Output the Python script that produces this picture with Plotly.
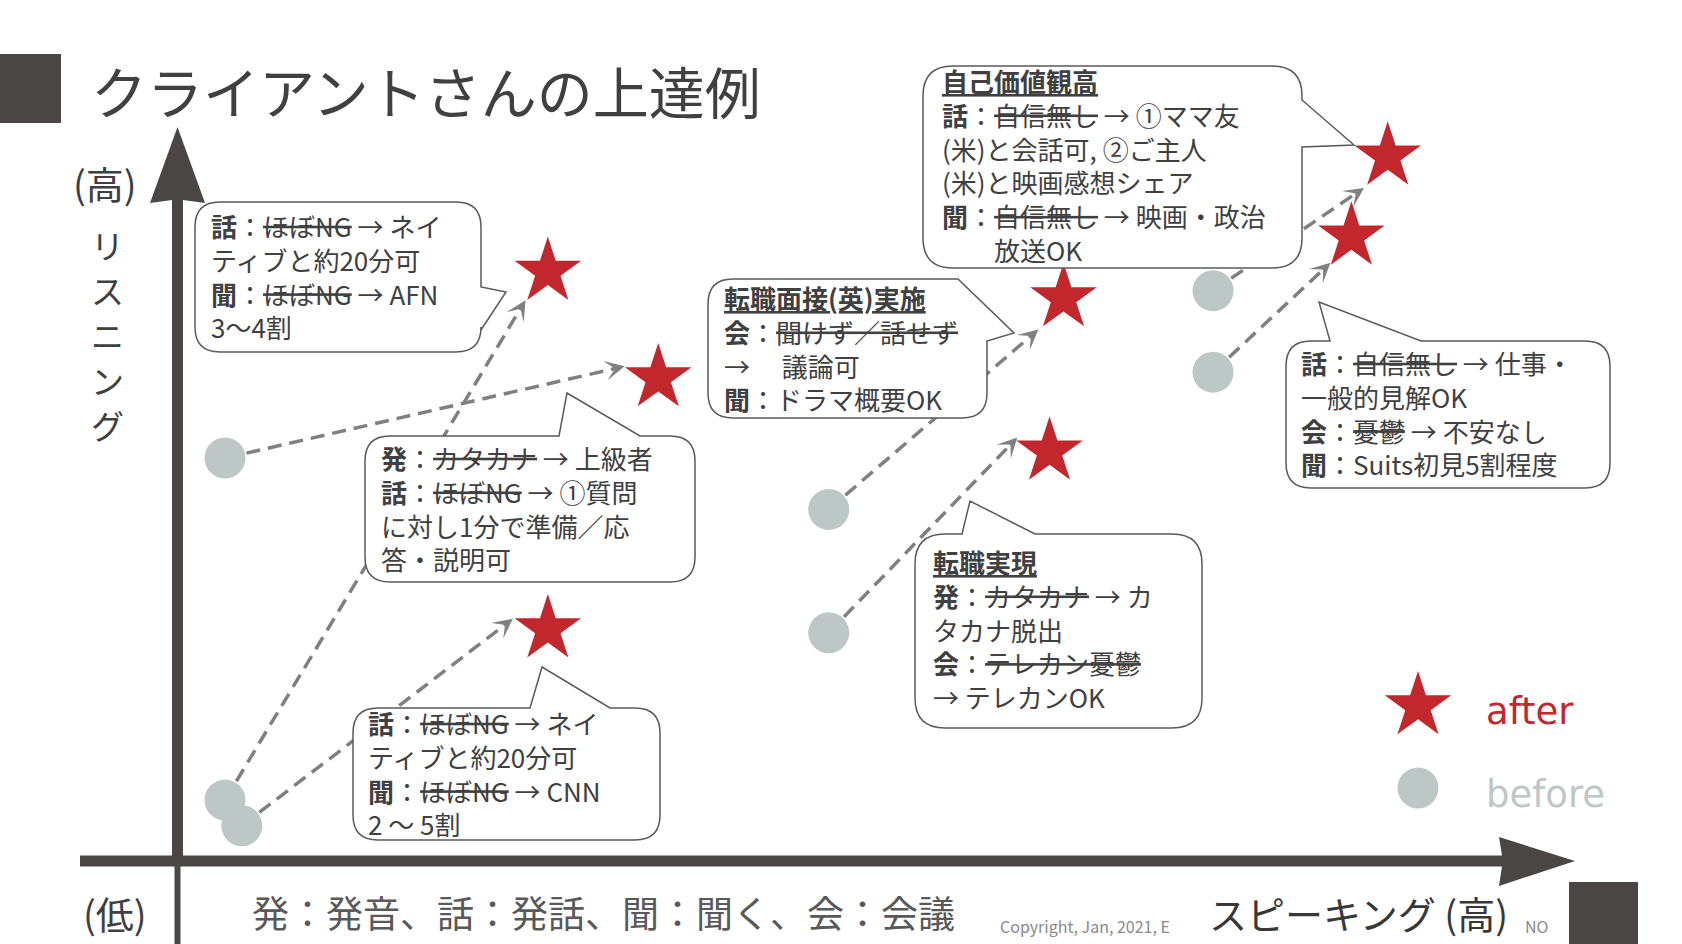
import math
import plotly.graph_objects as go

# ---------------- data (conceptual levels 0-100) ----------------
before_speaking = [3.4, 3.4, 4.6, 46.6, 46.6, 74.1, 74.1]
before_listening = [54.9, 8.3, 4.8, 47.9, 31.1, 77.7, 66.6]
after_speaking = [34.4, 26.5, 26.5, 63.4, 62.4, 86.6, 84.0]
after_listening = [65.8, 80.3, 31.6, 76.7, 55.8, 96.0, 85.1]
# where each dashed arrow stops
arrow_end_speaking = [32.0, 24.9, 24.0, 61.6, 60.1, 84.9, 82.5]
arrow_end_listening = [67.4, 76.4, 33.0, 72.4, 57.7, 91.7, 81.5]

title_text = "クライアントさんの上達例"
y_label_chars = ["リ", "ス", "ニ", "ン", "グ"]
legend_labels = ["after", "before"]
footnote = "発：発音、話：発話、聞：聞く、会：会議"

box_a = ["<b>話</b>：<s>ほぼNG</s> → ネイ", "ティブと約20分可", "<b>聞</b>：<s>ほぼNG</s> → AFN", "3～4割"]
box_b = ["<b>発</b>：<s>カタカナ</s> → 上級者", "<b>話</b>：<s>ほぼNG</s> → ①質問", "に対し1分で準備／応", "答・説明可"]
box_g = ["<b>話</b>：<s>ほぼNG</s> → ネイ", "ティブと約20分可", "<b>聞</b>：<s>ほぼNG</s> → CNN", "2 ～ 5割"]
box_c = ["<b><u>転職面接(英)実施</u></b>", "<b>会</b>：<s>聞けず／話せず</s>", "→　 議論可", "<b>聞</b>：ドラマ概要OK"]
box_d = ["<b><u>自己価値観高</u></b>", "<b>話</b>：<s>自信無し</s> → ①ママ友", "(米)と会話可, ②ご主人",
         "(米)と映画感想シェア", "<b>聞</b>：<s>自信無し</s> → 映画・政治", "　　放送OK"]
box_e = ["<b>話</b>：<s>自信無し</s> → 仕事・", "一般的見解OK", "<b>会</b>：<s>憂鬱</s> → 不安なし", "<b>聞</b>：Suits初見5割程度"]
box_f = ["<b><u>転職実現</u></b>", "<b>発</b>：<s>カタカナ</s> → カ", "タカナ脱出", "<b>会</b>：<s>テレカン憂鬱</s>", "→ テレカンOK"]

# ---------------- layout geometry ----------------
W, H = 1682, 944
OX, OY = 177.5, 861.0        # pixel position of the axis crossing
KX, KY = 13.975, 7.34        # pixels per level unit


def to_px(x, y):
    return OX + x * KX, OY - y * KY


def to_data(px, py):
    return (px - OX) / KX, (OY - py) / KY


def P(x, y):
    return f"{x / W:.5f},{1 - y / H:.5f}"


JP = "Noto Sans CJK JP"
DARK = "#4A4645"
TXT = "#404040"
RED = "#C1272D"
GREY = "#BDC7C5"
LINE = "#808080"

fig = go.Figure()

# dashed connectors
lx, ly, arrows = [], [], []
for bx, by, ex, ey in zip(before_speaking, before_listening, arrow_end_speaking, arrow_end_listening):
    p0 = to_px(bx, by)
    p1 = to_px(ex, ey)
    dx, dy = p1[0] - p0[0], p1[1] - p0[1]
    d = math.hypot(dx, dy)
    ux, uy = dx / d, dy / d
    lend = (p1[0] - ux * 8, p1[1] - uy * 8)
    tail = (p1[0] - ux * 12, p1[1] - uy * 12)
    lx += [bx, to_data(*lend)[0], None]
    ly += [by, to_data(*lend)[1], None]
    arrows.append(((ex, ey), to_data(*tail)))

fig.add_trace(go.Scatter(x=lx, y=ly, mode="lines", hoverinfo="skip",
                         line=dict(color=LINE, width=3.5, dash="14px,8px")))
fig.add_trace(go.Scatter(x=before_speaking, y=before_listening, mode="markers", hoverinfo="skip",
                         marker=dict(size=41, color=GREY, line=dict(width=0))))
fig.add_trace(go.Scatter(x=after_speaking, y=after_listening, mode="markers", hoverinfo="skip",
                         marker=dict(symbol="star", size=50, color=RED, line=dict(width=0))))
# legend markers
lgx1, lgy1 = to_data(1418, 706)
lgx2, lgy2 = to_data(1418, 788)
fig.add_trace(go.Scatter(x=[lgx1], y=[lgy1], mode="markers", hoverinfo="skip",
                         marker=dict(symbol="star", size=50, color=RED, line=dict(width=0))))
fig.add_trace(go.Scatter(x=[lgx2], y=[lgy2], mode="markers", hoverinfo="skip",
                         marker=dict(size=41, color=GREY, line=dict(width=0))))

shapes = []
# dark squares
shapes.append(dict(type="rect", xref="paper", yref="paper", x0=0, x1=61 / W, y0=1 - 123 / H, y1=1 - 54 / H,
                   fillcolor=DARK, line=dict(width=0), layer="below"))
shapes.append(dict(type="rect", xref="paper", yref="paper", x0=1569 / W, x1=1638 / W, y0=0, y1=1 - 882 / H,
                   fillcolor=DARK, line=dict(width=0), layer="below"))
# vertical axis arrow
v_path = (f"M{P(172, 861)} L{P(172, 200)} L{P(150, 203)} L{P(177.5, 127)} L{P(205, 203)} "
          f"L{P(183, 200)} L{P(183, 861)} Z")
shapes.append(dict(type="path", xref="paper", yref="paper", path=v_path, fillcolor=DARK,
                   line=dict(width=0), layer="below"))
shapes.append(dict(type="rect", xref="paper", yref="paper", x0=174.5 / W, x1=180.5 / W, y0=0, y1=1 - 861 / H,
                   fillcolor=DARK, line=dict(width=0), layer="below"))
# horizontal axis arrow
h_path = (f"M{P(80, 855.5)} L{P(1502, 855.5)} L{P(1499, 837)} L{P(1575, 861)} L{P(1499, 886)} "
          f"L{P(1502, 866.5)} L{P(80, 866.5)} Z")
shapes.append(dict(type="path", xref="paper", yref="paper", path=h_path, fillcolor=DARK,
                   line=dict(width=0), layer="below"))


def bubble(x0, y0, x1, y1, r=25, top=None, right=None, topright=None):
    s = [f"M{P(x0 + r, y0)}"]
    if top:
        b1, tip, b2 = top
        s += [f"L{P(b1, y0)}", f"L{P(*tip)}", f"L{P(b2, y0)}"]
    if topright:
        bx, tip, by = topright
        s += [f"L{P(bx, y0)}", f"L{P(*tip)}", f"L{P(x1, by)}"]
    else:
        s += [f"L{P(x1 - r, y0)}", f"Q{P(x1, y0)} {P(x1, y0 + r)}"]
    if right:
        b1, tip, b2 = right
        s += [f"L{P(x1, b1)}", f"L{P(*tip)}", f"L{P(x1, b2)}"]
    s += [f"L{P(x1, y1 - r)}", f"Q{P(x1, y1)} {P(x1 - r, y1)}",
          f"L{P(x0 + r, y1)}", f"Q{P(x0, y1)} {P(x0, y1 - r)}",
          f"L{P(x0, y0 + r)}", f"Q{P(x0, y0)} {P(x0 + r, y0)}", "Z"]
    return " ".join(s)


bubbles = [
    bubble(195, 202, 481, 352, right=(287, (506, 292), 330)),
    bubble(365, 436, 695, 582, top=(559, (567, 393), 640)),
    bubble(353, 708, 660, 840, top=(530, (542, 667), 610)),
    bubble(708, 279, 987, 418, topright=(958, (1014, 333), 341)),
    bubble(923, 66, 1302, 268, r=30, right=(100, (1354, 145), 147)),
    bubble(1286, 341, 1610, 488, top=(1330, (1319, 302), 1421)),
    bubble(915, 534, 1202, 728, r=30, top=(962, (970, 501), 1035)),
]
for b in bubbles:
    shapes.append(dict(type="path", xref="paper", yref="paper", path=b, fillcolor="white",
                       line=dict(color="#5A5A5A", width=1.5), layer="above"))

ann = []


def text(x, y, t, size, color=TXT, anchor="left", family=JP):
    ann.append(dict(x=x / W, y=1 - y / H, xref="paper", yref="paper", text=t, showarrow=False,
                    xanchor=anchor, yanchor="middle", align="left" if anchor == "left" else "center",
                    font=dict(family=family, size=size, color=color)))


def block(lines, x, y_first, y_last, size=26):
    text(x - 2, (y_first + y_last) / 2 - 1, "<br>".join(lines), size)


block(box_a, 211, 227, 326)
block(box_b, 381, 460, 558)
block(box_g, 368, 725, 823)
block(box_c, 724, 301, 398)
block(box_d, 942, 85, 246)
block(box_e, 1301, 366, 462)
block(box_f, 933, 565, 695)

# title and axis labels
text(89, 90, title_text, 56)
text(105, 182, "(高)", 38, anchor="center")
for i, ch in enumerate(y_label_chars):
    text(107, 244.6 + i * 45, ch, 33, anchor="center")
text(115, 912, "(低)", 38, anchor="center")
text(250, 912, footnote, 37, color="#595959")
text(1172, 926, "Copyright, Jan, 2021, E", 16, color="#8A8A8A", anchor="right")
text(1523, 926, "NO", 16, color="#8A8A8A")
text(1207, 912, "スピーキング (高)", 38, color="#383838")
# legend texts
text(1484, 711, legend_labels[0], 37, color=RED, family="DejaVu Sans")
text(1484, 794, legend_labels[1], 37, color=GREY, family="DejaVu Sans")

# arrowheads
for tip, tail in arrows:
    ann.append(dict(x=tip[0], y=tip[1], ax=tail[0], ay=tail[1], xref="x", yref="y", axref="x", ayref="y",
                    text="", showarrow=True, arrowhead=3, arrowsize=1.1, arrowwidth=3,
                    arrowcolor=LINE, standoff=0))

fig.update_layout(
    width=W, height=H, margin=dict(l=0, r=0, t=0, b=0),
    paper_bgcolor="white", plot_bgcolor="white", showlegend=False,
    xaxis=dict(range=[-OX / KX, (W - OX) / KX], visible=False, fixedrange=True),
    yaxis=dict(range=[(OY - H) / KY, OY / KY], visible=False, fixedrange=True),
    shapes=shapes, annotations=ann,
)

fig.write_html("out.html", config={"displayModeBar": False},
               post_script="document.body.style.margin='0';document.body.style.overflow='hidden';")
